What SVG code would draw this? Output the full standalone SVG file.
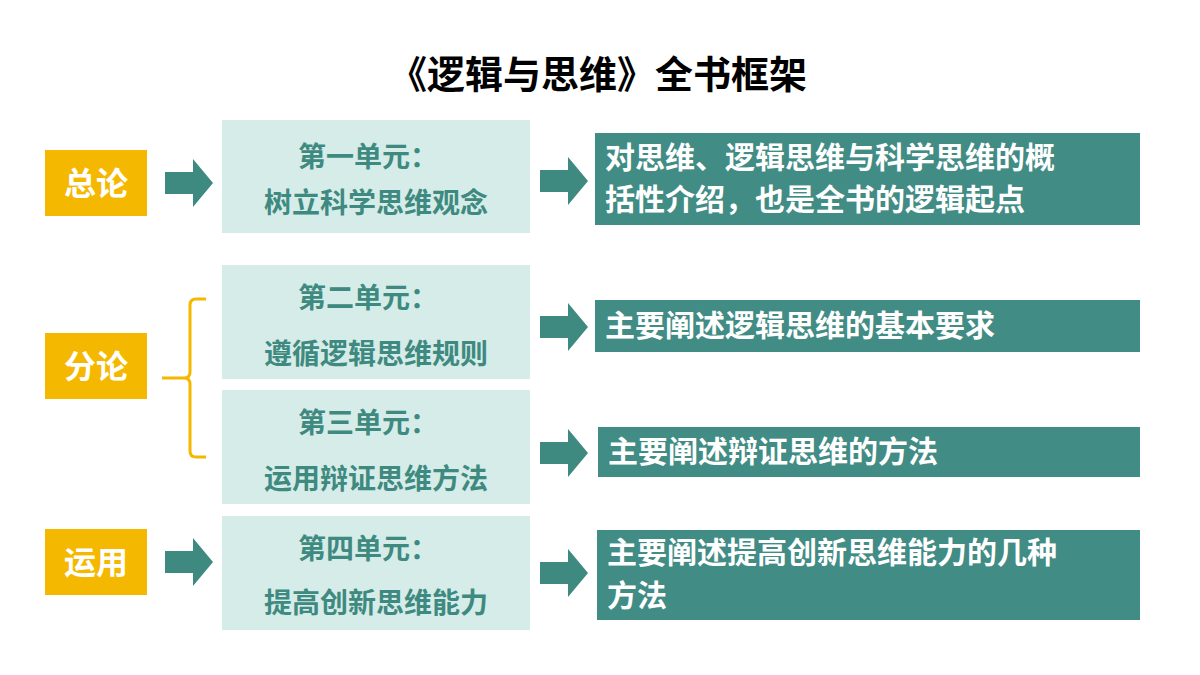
<svg xmlns="http://www.w3.org/2000/svg" width="1200" height="675" viewBox="0 0 1200 675">
<defs><style>
text{font-family:"Noto Sans CJK SC","Liberation Sans",sans-serif;font-weight:bold}
.y{fill:#F5B800}.yt{fill:#fff;font-size:32px;text-anchor:middle}
.l{fill:#D6ECE9}.lt{fill:#3E8A80;font-size:28px;text-anchor:middle}
.d{fill:#418C84}.dt{fill:#fff;font-size:30px}
.a{fill:#3E8A80}
</style>
<path id="ar" d="M0,-11 H28 V-24 L48,0 L28,24 V11 H0 Z"/></defs>
<rect width="1200" height="675" fill="#fff"/>
<text x="598" y="88" font-size="38" text-anchor="middle" fill="#000">《逻辑与思维》全书框架</text>
<g id="n-zonglun"><rect class="y" x="45" y="150" width="102" height="66"/><text class="yt" x="96" y="195">总论</text></g>
<g id="n-fenlun"><rect class="y" x="45" y="333" width="102" height="66"/><text class="yt" x="96" y="378">分论</text></g>
<g id="n-yunyong"><rect class="y" x="45" y="529" width="102" height="66"/><text class="yt" x="96" y="574">运用</text></g>
<g id="n-u1"><rect class="l" x="222" y="120" width="308" height="113"/><text class="lt" x="368" y="167">第一单元：</text><text class="lt" x="376" y="213">树立科学思维观念</text></g>
<g id="n-u2"><rect class="l" x="222" y="265" width="308" height="114"/><text class="lt" x="368" y="308">第二单元：</text><text class="lt" x="376" y="364">遵循逻辑思维规则</text></g>
<g id="n-u3"><rect class="l" x="222" y="390" width="308" height="114"/><text class="lt" x="368" y="433">第三单元：</text><text class="lt" x="376" y="489">运用辩证思维方法</text></g>
<g id="n-u4"><rect class="l" x="222" y="516" width="308" height="114"/><text class="lt" x="368" y="559">第四单元：</text><text class="lt" x="376" y="613">提高创新思维能力</text></g>
<g id="n-d1"><rect class="d" x="595" y="133" width="545" height="92"/><text class="dt" x="605" y="168">对思维、逻辑思维与科学思维的概</text><text class="dt" x="605" y="210">括性介绍，也是全书的逻辑起点</text></g>
<g id="n-d2"><rect class="d" x="595" y="300" width="545" height="52"/><text class="dt" x="605" y="336">主要阐述逻辑思维的基本要求</text></g>
<g id="n-d3"><rect class="d" x="598" y="427" width="542" height="50"/><text class="dt" x="608" y="462">主要阐述辩证思维的方法</text></g>
<g id="n-d4"><rect class="d" x="597" y="530" width="543" height="90"/><text class="dt" x="607" y="563">主要阐述提高创新思维能力的几种</text><text class="dt" x="607" y="606">方法</text></g>
<g id="connectors">
<use href="#ar" class="a" x="165" y="183"/>
<use href="#ar" class="a" x="165" y="562"/>
<use href="#ar" class="a" x="540" y="181"/>
<use href="#ar" class="a" x="540" y="327"/>
<use href="#ar" class="a" x="540" y="453"/>
<use href="#ar" class="a" x="540" y="573"/>
<path d="M206,299 H196 Q190,299 190,305 V372 Q190,378 184,378 H162 M184,378 Q190,378 190,384 V451 Q190,457 196,457 H206" fill="none" stroke="#F5B800" stroke-width="3"/>
</g>
</svg>
